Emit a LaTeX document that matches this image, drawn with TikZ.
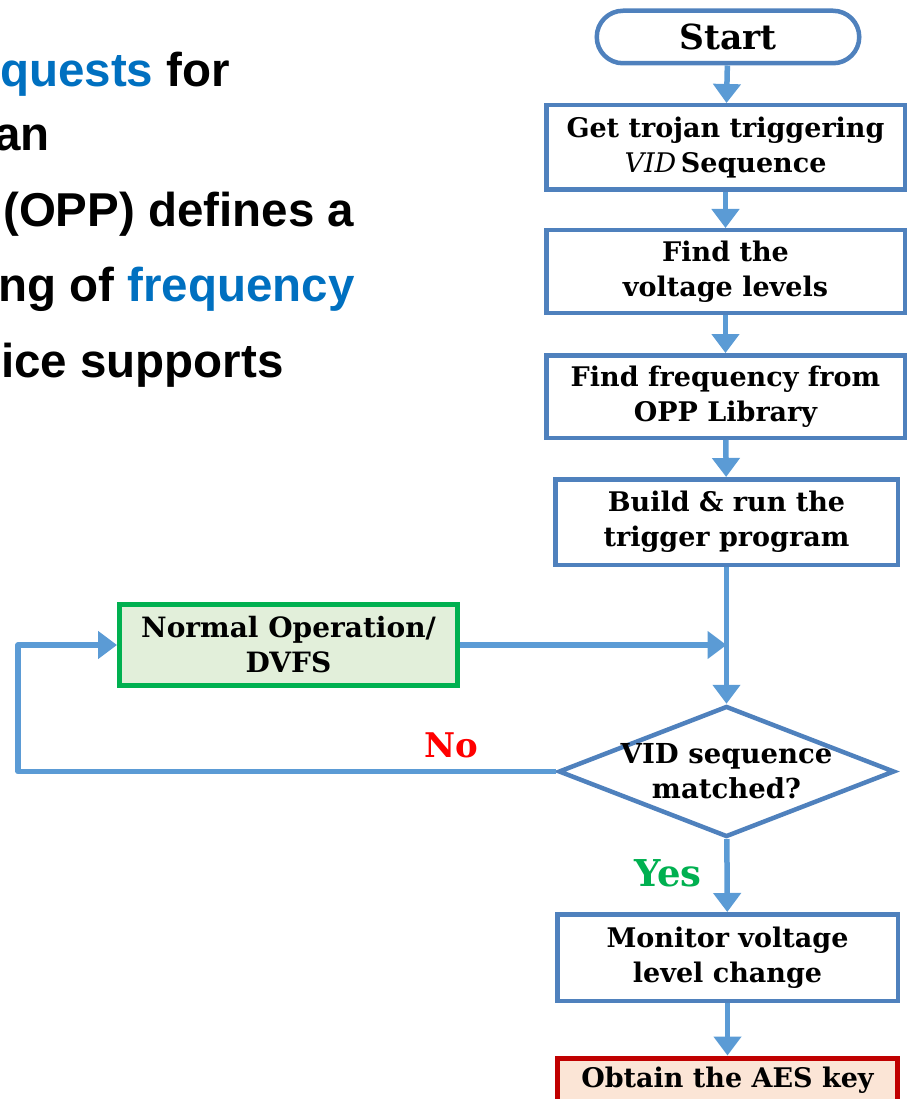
\documentclass[tikz,border=0pt]{standalone}
\usepackage{fontspec}
\setmainfont{DejaVu Serif}
\newfontfamily\slidefont{Liberation Sans}
\usetikzlibrary{shapes.geometric,shapes.misc,arrows.meta}
\definecolor{boxblue}{HTML}{4F81BD}
\definecolor{arrblue}{HTML}{5B9BD5}
\definecolor{txtblue}{HTML}{0070C0}
\definecolor{grnb}{HTML}{00B050}
\definecolor{grnf}{HTML}{E2EFDA}
\definecolor{redb}{HTML}{C00000}
\definecolor{redf}{HTML}{FBE5D6}
\definecolor{nored}{HTML}{FF0000}
\begin{document}
\begin{tikzpicture}[x=1pt,y=-1pt,
  proc/.style={draw=boxblue,line width=4.5pt,fill=white,align=center,
    font=\fontsize{27}{35}\selectfont\bfseries,inner sep=0pt},
  flow/.style={draw=arrblue,line width=5.5pt,line join=round,
    -{Triangle[width=27pt,length=19pt]}},
  slide/.style={anchor=base west,inner sep=0pt,font=\slidefont\bfseries\fontsize{47.5}{50}\selectfont},
  lbl/.style={font=\fontsize{34}{36}\selectfont\bfseries,inner sep=0pt}
]
\useasboundingbox (0,0) rectangle (911,1099);
\begin{scope}
\clip (0,0) rectangle (911,1099);
% slide text fragments
\node[slide] (t1) at (0,87) {\textcolor{txtblue}{quests} for};
\node[slide] (t2) at (-6,151) {an};
\node[slide] (t3) at (3,227) {(OPP) defines a};
\node[slide] (t4) at (-2,301) {ng of \textcolor{txtblue}{frequency}};
\node[slide] (t5) at (1,377) {ice supports};

% flowchart
\node[proc,rounded rectangle,minimum width=262.5pt,minimum height=52.5pt,
  font=\fontsize{34.5}{36}\selectfont\bfseries] (start) at (728,37) {Start};
\node[proc,minimum width=358.5pt,minimum height=84.5pt] (b1) at (725.5,147.5)
  {Get trojan triggering\\{\mdseries\itshape VID}\,Sequence};
\node[proc,minimum width=358.5pt,minimum height=82.5pt] (b2) at (725.5,271.5)
  {Find the\\voltage levels};
\node[proc,minimum width=358.5pt,minimum height=82.5pt] (b3) at (725.5,396.5)
  {Find frequency from\\OPP Library};
\node[proc,minimum width=342.5pt,minimum height=85.5pt] (b4) at (726.5,522)
  {Build \& run the\\trigger program};
\node[proc,draw=grnb,fill=grnf,line width=5pt,minimum width=338pt,minimum height=81pt,
  font=\fontsize{28}{35}\selectfont\bfseries] (norm) at (288.5,645)
  {Normal Operation/\\DVFS};
\node[proc,diamond,aspect=2.5,inner sep=-8pt,minimum width=336pt,minimum height=131pt,
  font=\fontsize{27.5}{35}\selectfont\bfseries] (dec) at (726.5,771.5)
  {VID sequence\\matched?};
\node[proc,minimum width=340.5pt,minimum height=86.5pt] (mon) at (727.5,957.5)
  {Monitor voltage\\level change};
\node[proc,draw=redb,fill=redf,line width=5pt,minimum width=340pt,minimum height=90pt,anchor=north] (aes)
  at (727.5,1055.5) {};
\node[inner sep=0pt,font=\fontsize{27}{30}\selectfont\bfseries] (aest) at (727.5,1080) {Obtain the AES key};

\coordinate (loopx) at (18,0);
\draw[flow] (start) -- (b1);
\draw[flow] (b1) -- (b2);
\draw[flow] (b2) -- (b3);
\draw[flow] (b3) -- (b4);
\draw[flow] (b4) -- (dec);
\draw[flow] (norm.east) -- (norm.east -| dec.north);
\draw[flow] (dec.west) -- (dec.west -| loopx) |- (norm.west);
\draw[flow] (dec) -- (mon);
\draw[flow] (mon) -- (aes);

\node[lbl,text=nored] (no) at (451,745) {No};
\node[lbl,text=grnb,font=\fontsize{37}{40}\selectfont\bfseries] (yes) at (668,873) {Yes};
\end{scope}
\end{tikzpicture}
\end{document}
